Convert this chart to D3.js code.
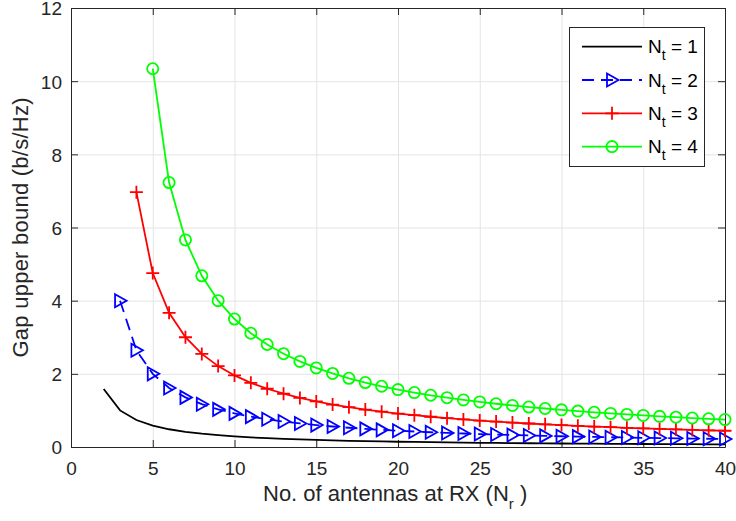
<!DOCTYPE html>
<html>
<head>
<meta charset="utf-8">
<script src="https://d3js.org/d3.v7.min.js"></script>
<style>
  body { margin: 0; background: #fff; }
  svg { font-family: "Liberation Sans", Arial, Helvetica, sans-serif; }
  .grid line { stroke: #e4e4e4; stroke-width: 1; }
  .grid .domain { stroke: none; }
  .axis path, .axis line { stroke: #262626; stroke-width: 1; }
  .axis text { fill: #262626; font-size: 19px; }
  .label { fill: #262626; font-size: 22px; }
  .legend text { fill: #000; font-size: 19px; }
</style>
</head>
<body>
<svg id="chart" width="736" height="521"></svg>
<script>
// x: number of RX antennas, series start at Nr = Nt + 1
const nrValues = d3.range(2, 41);

// gap upper bound (b/s/Hz)
const gapNt1 = [1.585, 1.000, 0.737, 0.585, 0.485, 0.415, 0.363, 0.322, 0.290, 0.263,
  0.241, 0.222, 0.206, 0.193, 0.181, 0.170, 0.160, 0.152, 0.144, 0.138,
  0.131, 0.126, 0.120, 0.115, 0.111, 0.107, 0.103, 0.100, 0.096, 0.093,
  0.090, 0.087, 0.085, 0.082, 0.080, 0.078, 0.076, 0.074, 0.072];
const gapNt2 = [4.000, 2.644, 2.000, 1.615, 1.356, 1.170, 1.029, 0.919, 0.830, 0.757,
  0.696, 0.644, 0.599, 0.560, 0.526, 0.496, 0.469, 0.445, 0.423, 0.403,
  0.385, 0.369, 0.354, 0.340, 0.327, 0.315, 0.304, 0.294, 0.284, 0.275,
  0.267, 0.259, 0.251, 0.244, 0.237, 0.231, 0.225, 0.219];
const gapNt3 = [6.966, 4.755, 3.667, 3.000, 2.544, 2.211, 1.956, 1.755, 1.592, 1.456,
  1.342, 1.245, 1.161, 1.088, 1.023, 0.966, 0.915, 0.869, 0.827, 0.789,
  0.755, 0.723, 0.694, 0.667, 0.642, 0.619, 0.598, 0.578, 0.559, 0.542,
  0.525, 0.510, 0.495, 0.481, 0.468, 0.456, 0.444];
const gapNt4 = [10.340, 7.229, 5.660, 4.680, 4.000, 3.498, 3.110, 2.802, 2.550, 2.340,
  2.162, 2.010, 1.878, 1.762, 1.660, 1.569, 1.488, 1.414, 1.348, 1.288,
  1.232, 1.182, 1.135, 1.092, 1.052, 1.015, 0.981, 0.948, 0.918, 0.890,
  0.863, 0.838, 0.814, 0.792, 0.771, 0.750];

const ntLabels = ['1', '2', '3', '4'];
const xTicks = [0, 5, 10, 15, 20, 25, 30, 35, 40];
const yTicks = [0, 2, 4, 6, 8, 10, 12];

const series = [
  {nt: 1, values: gapNt1, color: '#000000', dash: null, marker: null},
  {nt: 2, values: gapNt2, color: '#0000ff', dash: '12,7', marker: 'tri'},
  {nt: 3, values: gapNt3, color: '#ff0000', dash: null, marker: 'plus'},
  {nt: 4, values: gapNt4, color: '#00ff00', dash: null, marker: 'circle'}
];
series.forEach(s => {
  s.points = s.values.map((v, i) => ({nr: nrValues[0] + s.nt - 1 + i, gap: v}));
});

const svg = d3.select('svg#chart');
const margins = {top: 8, right: 11, bottom: 74, left: 71};
const chartWidth = +svg.attr('width') - margins.left - margins.right;
const chartHeight = +svg.attr('height') - margins.top - margins.bottom;

const chartArea = svg.append('g')
  .attr('transform', `translate(${margins.left},${margins.top})`);

const xScale = d3.scaleLinear().domain([0, 40]).range([0, chartWidth]);
const yScale = d3.scaleLinear().domain([0, 12]).range([chartHeight, 0]);

// gridlines
chartArea.append('g')
  .attr('class', 'grid')
  .attr('transform', `translate(0,${chartHeight})`)
  .call(d3.axisBottom(xScale).tickValues(xTicks).tickSize(-chartHeight).tickFormat(''));
chartArea.append('g')
  .attr('class', 'grid')
  .call(d3.axisLeft(yScale).tickValues(yTicks).tickSize(-chartWidth).tickFormat(''));

// box axes, ticks pointing inwards
chartArea.append('g')
  .attr('class', 'x axis')
  .attr('transform', `translate(0,${chartHeight})`)
  .call(d3.axisBottom(xScale).tickValues(xTicks).tickSizeInner(-7).tickSizeOuter(0).tickPadding(15));
chartArea.append('g')
  .attr('class', 'y axis')
  .call(d3.axisLeft(yScale).tickValues(yTicks).tickSizeInner(-7).tickSizeOuter(0).tickPadding(9))
  .selectAll('text').attr('dy', '0.36em');
chartArea.append('g')
  .attr('class', 'axis')
  .call(d3.axisTop(xScale).tickValues(xTicks).tickSizeInner(-7).tickSizeOuter(0).tickFormat(''));
chartArea.append('g')
  .attr('class', 'axis')
  .attr('transform', `translate(${chartWidth},0)`)
  .call(d3.axisRight(yScale).tickValues(yTicks).tickSizeInner(-7).tickSizeOuter(0).tickFormat(''));
svg.selectAll('.axis text').attr('font-family', null).attr('font-size', null);

// markers
function drawMarker(sel, kind, color) {
  if (kind === 'tri') {
    sel.append('path').attr('d', 'M-5,-6.5L6.5,0L-5,6.5Z')
      .attr('fill', 'none').attr('stroke', color).attr('stroke-width', 1.8);
  } else if (kind === 'plus') {
    sel.append('path').attr('d', 'M-6.5,0H6.5M0,-6.5V6.5')
      .attr('fill', 'none').attr('stroke', color).attr('stroke-width', 1.8);
  } else if (kind === 'circle') {
    sel.append('circle').attr('r', 5.6)
      .attr('fill', 'none').attr('stroke', color).attr('stroke-width', 1.8);
  }
}

const line = d3.line().x(d => xScale(d.nr)).y(d => yScale(d.gap));

series.forEach(s => {
  chartArea.append('path')
    .datum(s.points)
    .attr('d', line)
    .attr('fill', 'none')
    .attr('stroke', s.color)
    .attr('stroke-width', 1.8)
    .attr('stroke-dasharray', s.dash);
  if (s.marker) {
    chartArea.append('g').selectAll('g')
      .data(s.points)
      .join('g')
      .attr('transform', d => `translate(${xScale(d.nr)},${yScale(d.gap)})`)
      .each(function () { drawMarker(d3.select(this), s.marker, s.color); });
  }
});

// axis labels
const xLabel = svg.append('text')
  .attr('class', 'label')
  .attr('x', 263)
  .attr('y', 501);
xLabel.append('tspan').text('No. of antennas at RX (N');
xLabel.append('tspan').attr('font-size', 15).attr('dy', 8).text('r');
xLabel.append('tspan').attr('dy', -8).text(' )');

svg.append('text')
  .attr('class', 'label')
  .attr('transform', 'translate(28,227.5) rotate(-90)')
  .attr('text-anchor', 'middle')
  .attr('textLength', 260)
  .attr('lengthAdjust', 'spacing')
  .text('Gap upper bound (b/s/Hz)');

// legend
const legend = svg.append('g').attr('class', 'legend');
legend.append('rect')
  .attr('x', 569.5).attr('y', 27.5).attr('width', 135).attr('height', 139)
  .attr('fill', '#fff').attr('stroke', '#262626').attr('stroke-width', 1);
series.forEach((s, i) => {
  const cy = 46.7 + i * 33.3;
  const row = legend.append('g');
  row.append('line')
    .attr('x1', 582).attr('x2', 642).attr('y1', cy).attr('y2', cy)
    .attr('stroke', s.color).attr('stroke-width', 1.8)
    .attr('stroke-dasharray', s.dash);
  if (s.marker) {
    const m = row.append('g').attr('transform', `translate(612,${cy})`);
    drawMarker(m, s.marker, s.color);
  }
  const t = row.append('text').attr('x', 648).attr('y', cy + 6.5);
  t.append('tspan').text('N');
  t.append('tspan').attr('font-size', 14).attr('dy', 7).text('t');
  t.append('tspan').attr('dy', -7).text(' = ' + ntLabels[i]);
});
</script>
</body>
</html>
